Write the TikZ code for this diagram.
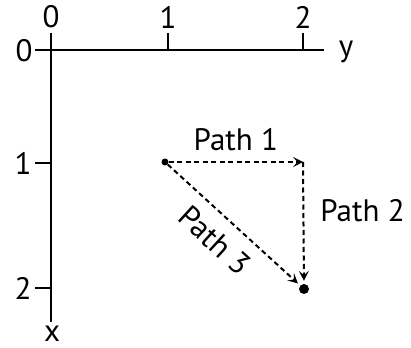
\documentclass[tikz,border=0pt]{standalone}
\usepackage{fontspec}
\setmainfont{PT Sans}
\usepackage{tikz}
\usetikzlibrary{positioning,arrows.meta}

\begin{document}
\begin{tikzpicture}[x=1pt,y=-1pt,
    axis/.style={line width=2.2pt},
    pathline/.style={line width=2pt, dash pattern=on 5pt off 3.5pt,
                     -{Stealth[length=10pt,width=10pt,inset=4.5pt]}},
    dot/.style={circle, fill=black, inner sep=0pt, minimum size=#1},
    lbl/.style={font=\fontsize{31}{34}\selectfont, inner sep=1pt}]
  \useasboundingbox (0,0) rectangle (411,347);

  % axes
  \coordinate (origin) at (51,50);
  \coordinate (ystart) at (35,50);
  \coordinate (yend)   at (324,50);
  \coordinate (xstart) at (51,33);
  \coordinate (xend)   at (51,322);
  \draw[axis] (ystart) -- (yend);
  \draw[axis] (xstart) -- (xend);

  % ticks
  \coordinate (ty1) at (168,33);
  \coordinate (ty2) at (303,33);
  \coordinate (tx1) at (35,163);
  \coordinate (tx2) at (35,288);
  \draw[axis] (ty1) -- (ty1 |- origin);
  \draw[axis] (ty2) -- (ty2 |- origin);
  \draw[axis] (tx1) -- (tx1 -| origin);
  \draw[axis] (tx2) -- (tx2 -| origin);

  % tick labels
  \node[lbl] (ylab0) at (51,17)  {0};
  \node[lbl] (ylab1) at (168,17) {1};
  \node[lbl] (ylab2) at (303,17) {2};
  \node[lbl] (xlab0) at (24,51)  {0};
  \node[lbl] (xlab1) at (23,163) {1};
  \node[lbl] (xlab2) at (23,288) {2};
  \node[lbl, anchor=base] (yname) at (346,57)  {y};
  \node[lbl, anchor=base] (xname) at (52,341)  {x};

  % points and paths
  \node[dot=7pt] (start) at (165,162) {};
  \coordinate (corner) at (303,162);
  \node[dot=10pt] (goal) at (304,289) {};

  \draw[pathline] (start) -- (corner)
    node[lbl, midway, above=9pt] (p1) {Path 1};
  \draw[pathline, shorten >=3pt] (corner) -- (goal)
    node[lbl, pos=0.4, right=15pt] (p2) {Path 2};
  \draw[pathline, shorten >=3pt] (start) -- (goal)
    node[lbl, pos=0.48, sloped, below=11pt] (p3) {Path 3};
\end{tikzpicture}
\end{document}
